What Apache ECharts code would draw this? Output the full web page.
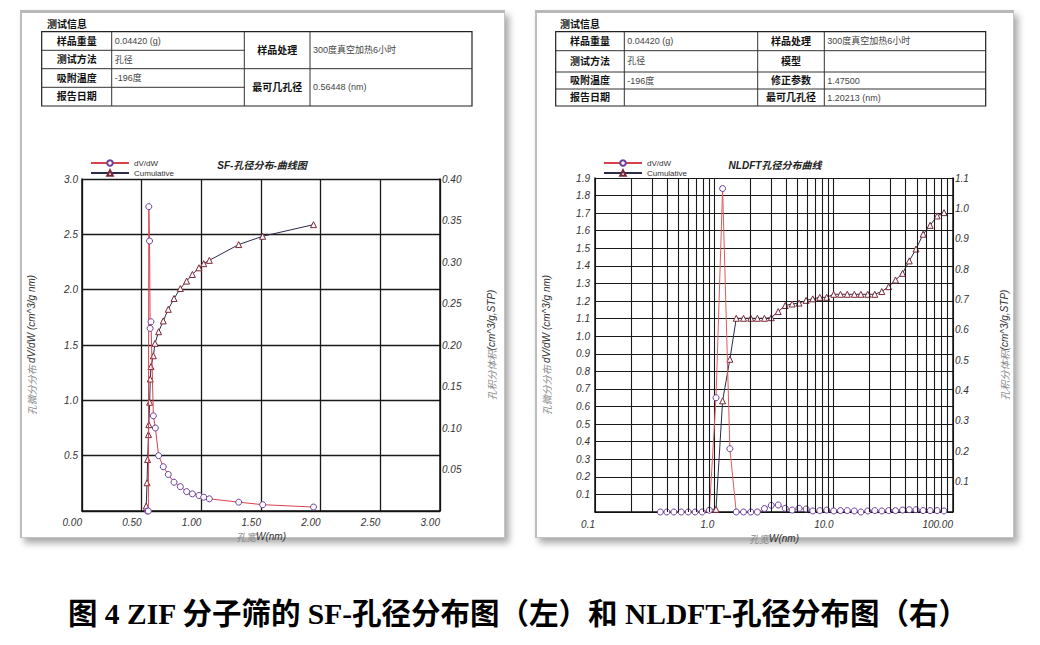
<!DOCTYPE html>
<html><head><meta charset="utf-8">
<script src="https://cdn.jsdelivr.net/npm/echarts@6/dist/echarts.min.js"></script>
<style>
html,body{margin:0;padding:0;background:#fff;}
#wrap{position:relative;width:1040px;height:645px;overflow:hidden;}
.panel{position:absolute;box-sizing:border-box;background:#fff;border:1px solid #c4c4c4;border-top:3px solid #b8b8b8;border-left:2px solid #bdbdbd;box-shadow:4px 5px 7px rgba(0,0,0,0.35);}
#p1{left:20px;top:10px;width:485px;height:528px;}
#p2{left:535px;top:10px;width:479px;height:528px;}
#c{position:absolute;left:0;top:0;width:1040px;height:645px;}
</style>
</head><body><div id="wrap"><div class="panel" id="p1"></div><div class="panel" id="p2"></div><div id="c"></div></div>
<script>
// ---- SF (left) data ----
const sfDvdwW = [0.548,0.556,0.560,0.566,0.571,0.578,0.598,0.615,0.642,0.681,0.723,0.771,0.824,0.877,0.925,0.980,1.020,1.067,1.313,1.514,1.940];
const sfDvdw  = [0,0,2.75,2.44,1.65,1.71,0.86,0.75,0.50,0.40,0.33,0.26,0.22,0.175,0.155,0.14,0.125,0.11,0.08,0.057,0.036];
const sfCumW  = [0.538,0.545,0.550,0.557,0.560,0.567,0.572,0.578,0.598,0.612,0.642,0.681,0.723,0.771,0.824,0.877,0.925,0.980,1.020,1.067,1.313,1.514,1.940];
const sfCum   = [0.006,0.034,0.062,0.092,0.104,0.131,0.159,0.174,0.187,0.202,0.216,0.229,0.243,0.256,0.268,0.277,0.285,0.293,0.298,0.302,0.321,0.331,0.345];

// ---- NLDFT (right) data ----
const nlDvdwW = [0.353,0.40,0.458,0.528,0.604,0.690,0.79,0.909,1.033,1.173,1.35,1.526,1.756,2.02,2.295,2.63,3.0,3.43,3.93,4.49,5.13,5.88,6.68,7.65,8.75,10.0,11.4,13.0,14.9,16.9,19.3,22.1,25.3,28.9,33.0,37.8,43.0,49.0,56.2,64.3,73.6,84.1];
const nlDvdw  = [0,0,0,0,0,0,0,0.01,0.65,1.84,0.36,0,0,0,0,0.02,0.038,0.04,0.021,0.011,0.021,0.017,0.006,0.008,0.011,0.006,0.008,0.008,0.006,0,0.006,0.008,0.006,0.008,0.008,0.011,0.013,0.013,0.008,0.008,0.008,0.006];
const nlCumW  = [0.909,1.033,1.173,1.35,1.526,1.756,2.02,2.295,2.63,3.0,3.43,3.93,4.49,5.13,5.88,6.68,7.65,8.75,10.0,11.4,13.0,14.9,16.9,19.3,22.1,25.3,28.9,33.0,37.8,43.0,49.0,56.2,64.3,73.6,84.1];
const nlCum   = [0.009,0.009,0.366,0.503,0.638,0.638,0.638,0.638,0.638,0.64,0.66,0.68,0.685,0.688,0.697,0.702,0.707,0.707,0.717,0.717,0.717,0.717,0.717,0.717,0.717,0.726,0.742,0.764,0.786,0.827,0.866,0.915,0.944,0.975,0.986];

// ---- tick labels / grid values ----
const nlXTickLabels = ['0.1','1.0','10.0','100.00'];
const nlMinorGrid = [0.2,0.3,0.4,0.5,0.6,0.7,0.8,0.9,2,3,4,5,6,7,8,9,20,30,40,50,60,70,80,90];

// ---- text ----
const seriesNames = ['dV/dW','Cumulative'];
const titles = ['SF-孔径分布-曲线图','NLDFT孔径分布曲线'];
const tableHeader = '测试信息';
const leftTableL = [['样品重量','0.04420 (g)'],['测试方法','孔径'],['吸附温度','-196度'],['报告日期','']];
const leftTableR = [['样品处理','300度真空加热6小时'],['最可几孔径','0.56448 (nm)']];
const rightTable = [['样品重量','0.04420 (g)','样品处理','300度真空加热6小时'],['测试方法','孔径','模型',''],['吸附温度','-196度','修正参数','1.47500'],['报告日期','','最可几孔径','1.20213 (nm)']];
const caption = '图 4 ZIF 分子筛的 SF-孔径分布图（左）和 NLDFT-孔径分布图（右）';
const xName = '{c|孔宽}{e|W(nm)}';
const yNameL = '{c|孔微分分布 }{e|dV/dW (cm^3/g nm)}';
const yNameR = '{c|孔积分体积}{e|(cm^3/g,STP)}';

const LBL = {fontFamily:'Liberation Sans, Arial', fontStyle:'italic', fontSize:10, color:'#333'};
const CJK = 'Noto Sans CJK SC';
const richName = {
  c:{color:'#8a8a8a', fontSize:10, fontStyle:'italic', fontFamily:CJK},
  e:{color:'#333', fontSize:10, fontStyle:'italic', fontFamily:'Liberation Sans, Arial'}
};

// ---- table graphics ----
const G = [];
function line(x1,y1,x2,y2,w){G.push({type:'line',z:10,silent:true,shape:{x1,y1,x2,y2},style:{stroke:'#333',lineWidth:w||1}});}
function txt(x,y,t,bold,align,color,size){G.push({type:'text',z:10,silent:true,x,y,style:{text:t,align:align||'left',verticalAlign:'middle',fill:color||'#333',font:(bold?'bold ':'')+(size||10)+'px "Liberation Sans", "Noto Sans CJK SC"'}});}
function frame(xs,ys){
  G.push({type:'rect',z:10,silent:true,shape:{x:xs[0],y:ys[0],width:xs[xs.length-1]-xs[0],height:ys[ys.length-1]-ys[0]},style:{fill:'none',stroke:'#222',lineWidth:1.2}});
  for(let i=1;i<xs.length-1;i++) line(xs[i],ys[0],xs[i],ys[ys.length-1]);
}
// left table
(function(){
  const xs=[41.7,111.7,244.3,310,472], ys=[31.7,50.3,68.7,87.3,106];
  frame(xs,ys);
  for(let r=1;r<4;r++) line(xs[0],ys[r],xs[2],ys[r]);
  line(xs[2],ys[2],xs[4],ys[2]);
  txt(47,24,tableHeader,true,'left','#111',10);
  leftTableL.forEach((row,r)=>{const ym=(ys[r]+ys[r+1])/2; txt((xs[0]+xs[1])/2,ym,row[0],true,'center','#111',10); txt(xs[1]+3,ym,row[1],false,'left','#444',9);});
  leftTableR.forEach((row,r)=>{const ym=(ys[2*r]+ys[2*r+2])/2; txt((xs[2]+xs[3])/2,ym,row[0],true,'center','#111',10); txt(xs[3]+3,ym,row[1],false,'left','#444',9);});
})();
// right table
(function(){
  const xs=[555.7,624.3,757.7,824.3,985.7], ys=[31.7,50.7,72,89,106];
  frame(xs,ys);
  for(let r=1;r<4;r++) line(xs[0],ys[r],xs[4],ys[r]);
  txt(560,24,tableHeader,true,'left','#111',10);
  rightTable.forEach((row,r)=>{const ym=(ys[r]+ys[r+1])/2;
    txt((xs[0]+xs[1])/2,ym,row[0],true,'center','#111',10); txt(xs[1]+3,ym,row[1],false,'left','#444',9);
    txt((xs[2]+xs[3])/2,ym,row[2],true,'center','#111',10); txt(xs[3]+3,ym,row[3],false,'left','#444',9);});
})();
// chart titles & caption
G.push({type:'text',z:10,silent:true,x:262,y:165,style:{text:titles[0],align:'center',verticalAlign:'middle',fill:'#222',font:'italic bold 10px "Liberation Sans", "Noto Sans CJK SC"'}});
G.push({type:'text',z:10,silent:true,x:775,y:165,style:{text:titles[1],align:'center',verticalAlign:'middle',fill:'#222',font:'italic bold 10px "Liberation Sans", "Noto Sans CJK SC"'}});
G.push({type:'text',z:10,silent:true,x:518,y:614,style:{text:caption,align:'center',verticalAlign:'middle',fill:'#000',font:'bold 29.5px "Liberation Serif", "Noto Sans CJK SC"'}});

const gridLine = {lineStyle:{color:'#1a1a1a',width:1.3}};
const axLine = {show:true,lineStyle:{color:'#111',width:1.5}};

function dvdwSeries(xi,yi,xs,ys,col){
  return {name:seriesNames[0],type:'line',xAxisIndex:xi,yAxisIndex:yi,data:xs.map((w,i)=>[w,ys[i]]),
    symbol:'circle',symbolSize:6,showAllSymbol:true,lineStyle:{color:col,width:1},
    itemStyle:{color:'#fff',borderColor:'#6b3fa0',borderWidth:1},z:4,animation:false};
}
function cumSeries(xi,yi,xs,ys){
  return {name:seriesNames[1],type:'line',xAxisIndex:xi,yAxisIndex:yi,data:xs.map((w,i)=>[w,ys[i]]),
    symbol:'triangle',symbolSize:6,showAllSymbol:true,lineStyle:{color:'#2a2c4a',width:1},
    itemStyle:{color:'#fff',borderColor:'#7a2838',borderWidth:1},z:3,animation:false};
}

const legendBase = {orient:'vertical',itemWidth:38,itemHeight:7,itemGap:0,padding:0,data:seriesNames,
  textStyle:{fontFamily:'Liberation Sans, Arial',fontSize:8,color:'#333',lineHeight:10},selectedMode:false};

const nlRight = cumSeries(1,3,nlCumW,nlCum);
const nlLeft = dvdwSeries(1,2,nlDvdwW,nlDvdw,'#e05a5a');
nlLeft.markLine = {silent:true,symbol:'none',label:{show:false},animation:false,
  lineStyle:{color:'#1a1a1a',width:1.1,type:'solid'},data:nlMinorGrid.map(v=>({xAxis:v}))};

const option = {
  animation:false,
  backgroundColor:'transparent',
  textStyle:{fontFamily:'Liberation Sans, Arial'},
  grid:[{left:82,top:179,width:358,height:332},{left:595,top:178,width:358,height:334}],
  legend:[Object.assign({left:90,top:158},legendBase),Object.assign({left:603,top:158},legendBase)],
  xAxis:[
    {type:'value',gridIndex:0,min:0,max:3,interval:0.5,axisLine:axLine,axisTick:{show:false},splitLine:gridLine,
     axisLabel:Object.assign({formatter:v=>v.toFixed(2),align:'right',margin:6},LBL),
     name:xName,nameLocation:'middle',nameGap:16,nameTextStyle:{rich:richName}},
    {type:'log',logBase:10,gridIndex:1,min:0.1,max:100,splitNumber:3,axisLine:axLine,axisTick:{show:false},splitLine:{lineStyle:{color:'#1a1a1a',width:1.1}},
     axisLabel:Object.assign({formatter:v=>nlXTickLabels[Math.round(Math.log10(v))+1],align:'right',margin:7},LBL),
     name:xName,nameLocation:'middle',nameGap:16,nameTextStyle:{rich:richName}}
  ],
  yAxis:[
    {type:'value',gridIndex:0,position:'left',min:0,max:3,interval:0.5,axisLine:axLine,axisTick:{show:false},splitLine:gridLine,
     axisLabel:Object.assign({formatter:v=>v===0?'':v.toFixed(1),margin:4},LBL),
     name:yNameL,nameLocation:'middle',nameGap:46,nameTextStyle:{rich:richName}},
    {type:'value',gridIndex:0,position:'right',min:0,max:0.4,interval:0.05,axisLine:axLine,axisTick:{show:false},splitLine:{show:false},
     axisLabel:Object.assign({formatter:v=>v<1e-9?'':v.toFixed(2),margin:2},LBL),
     name:yNameR,nameLocation:'middle',nameGap:46,nameRotate:90,nameTextStyle:{rich:richName}},
    {type:'value',gridIndex:1,position:'left',min:0,max:1.9,interval:0.1,axisLine:axLine,axisTick:{show:false},splitLine:{lineStyle:{color:'#1a1a1a',width:1.1}},
     axisLabel:Object.assign({formatter:v=>v<1e-9?'':v.toFixed(1),margin:5},LBL),
     name:yNameL,nameLocation:'middle',nameGap:44,nameTextStyle:{rich:richName}},
    {type:'value',gridIndex:1,position:'right',min:0,max:1.1,interval:0.1,axisLine:axLine,axisTick:{show:false},splitLine:{show:false},
     axisLabel:Object.assign({formatter:v=>v<1e-9?'':v.toFixed(1),margin:2},LBL),
     name:yNameR,nameLocation:'middle',nameGap:46,nameRotate:90,nameTextStyle:{rich:richName}}
  ],
  series:[
    dvdwSeries(0,0,sfDvdwW,sfDvdw,'#d8424f'),
    cumSeries(0,1,sfCumW,sfCum),
    nlLeft,
    nlRight
  ],
  graphic:{elements:G}
};
const chart = echarts.init(document.getElementById('c'),null,{renderer:'svg'});
chart.setOption(option);
</script>
</body></html>
